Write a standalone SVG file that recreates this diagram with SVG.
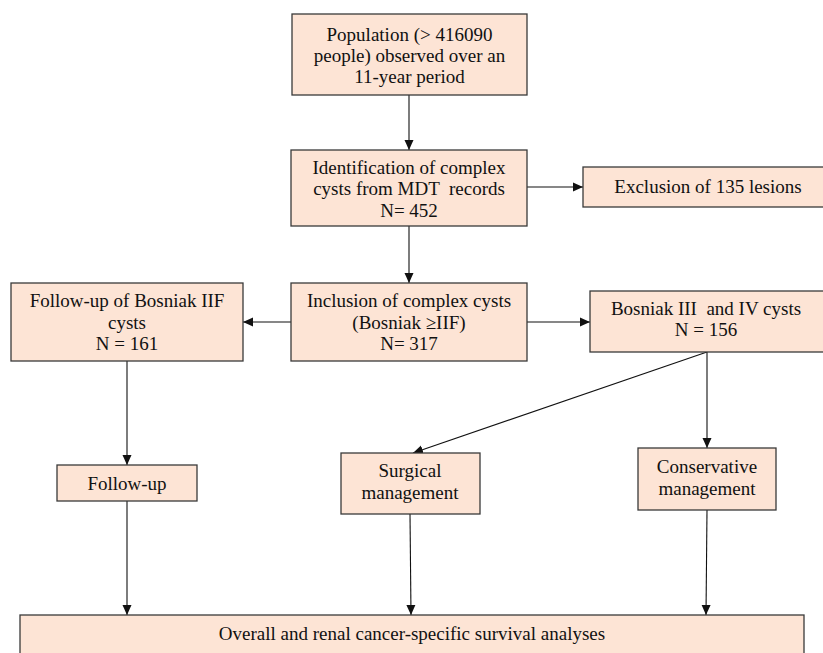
<svg xmlns="http://www.w3.org/2000/svg" width="823" height="653" viewBox="0 0 823 653">
<style>
.box{fill:#fde4d5;stroke:#3a3a3a;stroke-width:1.3}
.t{font-family:"Liberation Serif","Times New Roman",serif;font-size:19px;fill:#111;text-anchor:middle}
.c{stroke:#111;stroke-width:1.1;fill:none;marker-end:url(#ah)}
</style>
<defs>
<marker id="ah" viewBox="0 0 10 10" refX="10" refY="5" markerWidth="10" markerHeight="10" markerUnits="userSpaceOnUse" orient="auto">
<path d="M0,0.5 L10,5 L0,9.5 z" fill="#111"/>
</marker>
</defs>
<rect width="823" height="653" fill="#fff"/>
<g id="connectors">
<line class="c" x1="409" y1="95" x2="409" y2="150"/>
<line class="c" x1="527" y1="187" x2="583" y2="187"/>
<line class="c" x1="409" y1="226" x2="409" y2="283"/>
<line class="c" x1="291" y1="322" x2="243" y2="322"/>
<line class="c" x1="527" y1="322" x2="590" y2="322"/>
<line class="c" x1="707" y1="352" x2="413" y2="453"/>
<line class="c" x1="707" y1="352" x2="707" y2="448"/>
<line class="c" x1="127" y1="361" x2="127" y2="465"/>
<line class="c" x1="127" y1="501" x2="127" y2="615"/>
<line class="c" x1="410" y1="514" x2="411" y2="615"/>
<line class="c" x1="707" y1="510" x2="706" y2="615"/>
</g>
<g id="population">
<rect class="box" x="292" y="14" width="235" height="81"/>
<text class="t" x="409.5" y="41">Population (&gt; 416090</text>
<text class="t" x="409.5" y="62">people) observed over an</text>
<text class="t" x="409.5" y="83">11-year period</text>
</g>
<g id="identification">
<rect class="box" x="291" y="150" width="236" height="76"/>
<text class="t" x="409" y="174">Identification of complex</text>
<text class="t" x="409" y="195" xml:space="preserve">cysts from MDT  records</text>
<text class="t" x="409" y="217">N= 452</text>
</g>
<g id="exclusion">
<rect class="box" x="583" y="167" width="245" height="40"/>
<text class="t" x="708" y="193">Exclusion of 135 lesions</text>
</g>
<g id="bosniak-iif">
<rect class="box" x="11" y="283" width="232" height="78"/>
<text class="t" x="127" y="307">Follow-up of Bosniak IIF</text>
<text class="t" x="127" y="329">cysts</text>
<text class="t" x="127" y="350">N = 161</text>
</g>
<g id="inclusion">
<rect class="box" x="291" y="283" width="236" height="78"/>
<text class="t" x="409" y="307">Inclusion of complex cysts</text>
<text class="t" x="409" y="329">(Bosniak ≥IIF)</text>
<text class="t" x="409" y="350">N= 317</text>
</g>
<g id="bosniak-iii-iv">
<rect class="box" x="590" y="291" width="238" height="61"/>
<text class="t" x="706" y="315" xml:space="preserve">Bosniak III  and IV cysts</text>
<text class="t" x="706" y="336">N = 156</text>
</g>
<g id="follow-up">
<rect class="box" x="57" y="465" width="140" height="36"/>
<text class="t" x="127" y="490">Follow-up</text>
</g>
<g id="surgical">
<rect class="box" x="341" y="453" width="139" height="61"/>
<text class="t" x="410" y="477">Surgical</text>
<text class="t" x="410" y="499">management</text>
</g>
<g id="conservative">
<rect class="box" x="638" y="448" width="138" height="62"/>
<text class="t" x="707" y="473">Conservative</text>
<text class="t" x="707" y="495">management</text>
</g>
<g id="survival">
<rect class="box" x="20" y="615" width="784" height="45"/>
<text class="t" x="412" y="640">Overall and renal cancer-specific survival analyses</text>
</g>
</svg>
